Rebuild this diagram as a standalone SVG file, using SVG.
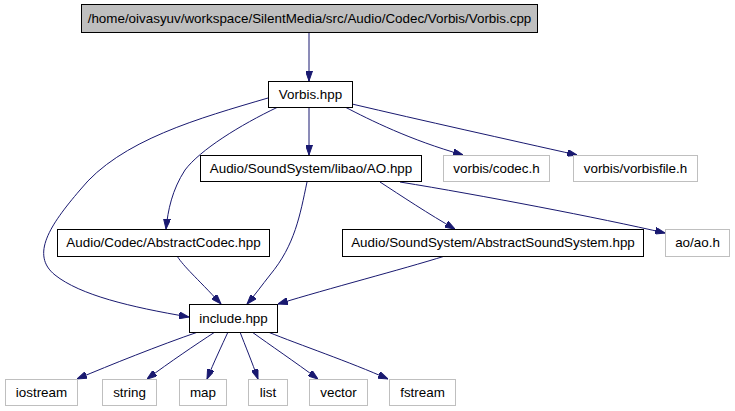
<svg xmlns="http://www.w3.org/2000/svg" width="735" height="411" viewBox="0 0 735 411">
<style>
text{font-family:"Liberation Sans",Arial,sans-serif;font-size:13.4px;text-anchor:middle;fill:#000}
.n rect{fill:#fff;stroke:#000;stroke-width:1}
.g rect{fill:#fff;stroke:#bfbfbf;stroke-width:1}
.e path{fill:none;stroke:#191970;stroke-width:1;marker-end:url(#ah)}
</style>
<defs>
<marker id="ah" viewBox="0 0 10 7" refX="10" refY="3.5" markerWidth="10" markerHeight="7" markerUnits="userSpaceOnUse" orient="auto">
<path d="M0,0 L10,3.5 L0,7 z" fill="#191970" stroke="#191970"/>
</marker>
</defs>
<rect width="735" height="411" fill="#fff"/>
<g id="edges" class="e">
<path d="M309,32 L309,81"/>
<path d="M309,107 L309,155"/>
<path d="M345,107 C370,120 410,140 463,155"/>
<path d="M352,104 C420,120 510,140 577,155"/>
<path d="M278,107 C240,125 200,150 185,170 C172,190 168,210 166,229"/>
<path d="M268,98 C200,118 120,140 80,190 C50,225 30,255 55,275 C80,295 130,307 189,317"/>
<path d="M307,182 C300,215 295,245 270,275 C262,285 255,295 247,304"/>
<path d="M380,182 C400,195 430,215 455,229"/>
<path d="M400,182 C480,195 600,218 665,233"/>
<path d="M177,256 C185,268 195,276 221,304"/>
<path d="M445,256 C400,270 330,288 278,304"/>
<path d="M198,332 C160,345 110,365 77,379"/>
<path d="M215,332 C195,345 170,362 147,379"/>
<path d="M228,332 C222,345 214,362 207,379"/>
<path d="M240,332 C245,345 252,362 258,379"/>
<path d="M252,332 C270,345 295,362 318,379"/>
<path d="M268,332 C300,345 350,362 388,379"/>
</g>
<g id="vorbis_cpp"><rect x="81.5" y="4.5" width="456" height="28" fill="#bfbfbf" stroke="#000"/><text x="309.5" y="23">/home/oivasyuv/workspace/SilentMedia/src/Audio/Codec/Vorbis/Vorbis.cpp</text></g>
<g id="vorbis_hpp" class="n"><rect x="268.5" y="81.5" width="84" height="26"/><text x="310.5" y="99">Vorbis.hpp</text></g>
<g id="ao_hpp" class="n"><rect x="200.5" y="155.5" width="221" height="26"/><text x="311" y="173">Audio/SoundSystem/libao/AO.hpp</text></g>
<g id="codec_h" class="g"><rect x="443.5" y="155.5" width="106" height="26"/><text x="496.5" y="173">vorbis/codec.h</text></g>
<g id="vorbisfile_h" class="g"><rect x="573.5" y="155.5" width="124" height="26"/><text x="635.5" y="173">vorbis/vorbisfile.h</text></g>
<g id="abstractcodec" class="n"><rect x="57.5" y="229.5" width="212" height="27"/><text x="163.5" y="247">Audio/Codec/AbstractCodec.hpp</text></g>
<g id="abstractsoundsystem" class="n"><rect x="342.5" y="229.5" width="301" height="27"/><text x="493" y="247">Audio/SoundSystem/AbstractSoundSystem.hpp</text></g>
<g id="ao_h" class="g"><rect x="665.5" y="229.5" width="64" height="27"/><text x="697.5" y="247">ao/ao.h</text></g>
<g id="include_hpp" class="n"><rect x="189.5" y="304.5" width="88" height="28"/><text x="233.5" y="323">include.hpp</text></g>
<g id="iostream" class="g"><rect x="5.5" y="379.5" width="72" height="26"/><text x="41.5" y="397">iostream</text></g>
<g id="string" class="g"><rect x="102.5" y="379.5" width="54" height="26"/><text x="129.5" y="397">string</text></g>
<g id="map" class="g"><rect x="179.5" y="379.5" width="47" height="26"/><text x="203" y="397">map</text></g>
<g id="list" class="g"><rect x="248.5" y="379.5" width="39" height="26"/><text x="268" y="397">list</text></g>
<g id="vector" class="g"><rect x="309.5" y="379.5" width="58" height="26"/><text x="338.5" y="397">vector</text></g>
<g id="fstream" class="g"><rect x="389.5" y="379.5" width="66" height="26"/><text x="422.5" y="397">fstream</text></g>
</svg>
